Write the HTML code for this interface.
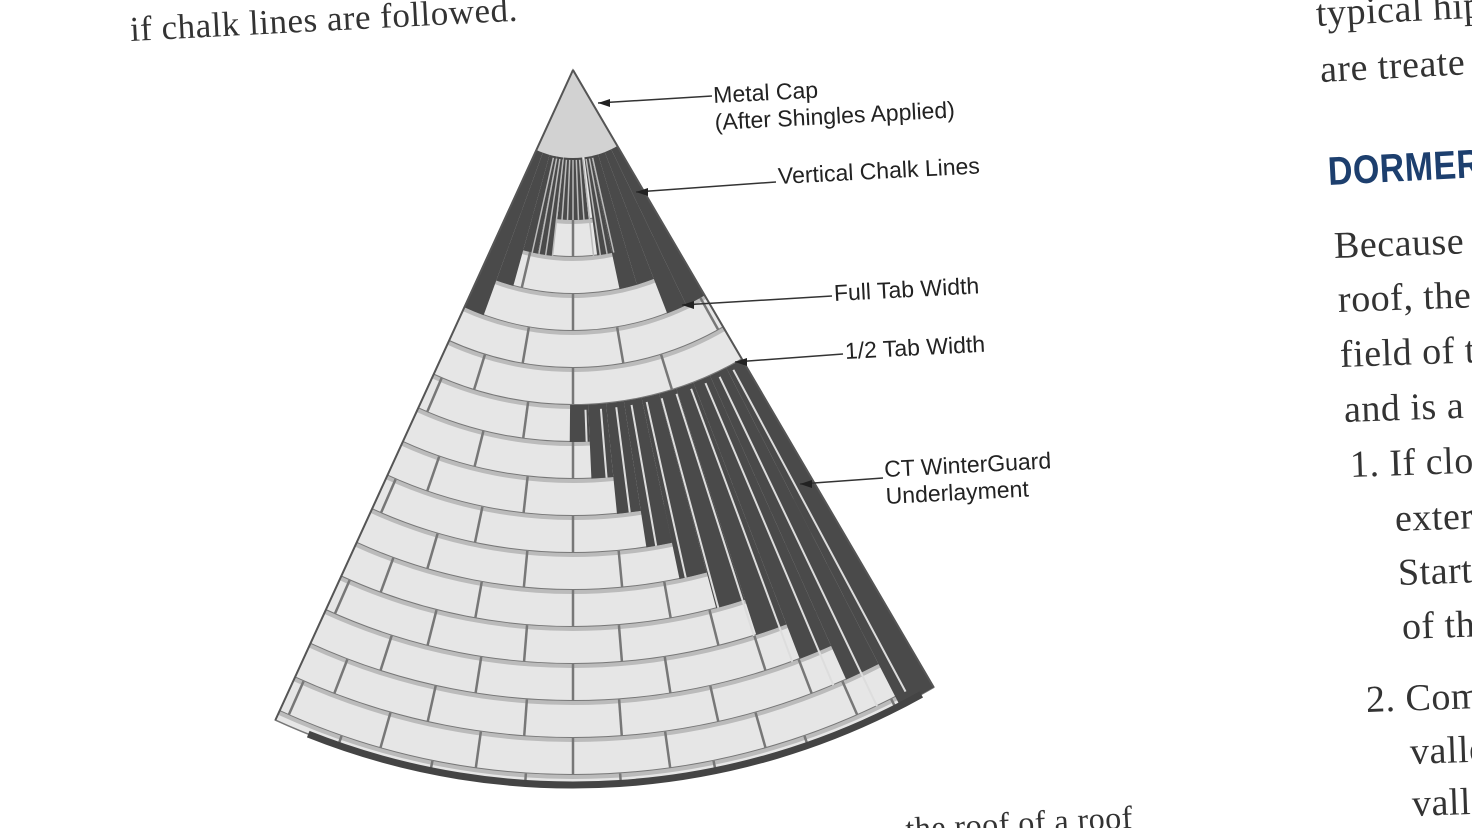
<!DOCTYPE html>
<html><head><meta charset="utf-8"><style>
html,body{margin:0;padding:0;background:#fff;width:1472px;height:828px;overflow:hidden;position:relative}
.s{position:absolute;font-family:"Liberation Serif",serif;color:#333;font-size:38px;white-space:nowrap;transform-origin:left center;letter-spacing:0.5px}
.l{position:absolute;font-family:"Liberation Sans",sans-serif;color:#222;font-size:23px;white-space:nowrap;transform:rotate(-3deg);transform-origin:left center;line-height:27px}
</style></head><body>
<div class="s" style="left:130px;top:10px;font-size:35px;transform:rotate(-3deg)">if chalk lines are followed.</div>
<div class="s" style="left:1316px;top:-8px;transform:rotate(-3deg)">typical hip</div>
<div class="s" style="left:1320px;top:48px;transform:rotate(-3deg)">are treate</div>
<div class="s" style="left:1328px;top:150px;font-family:'Liberation Sans',sans-serif;font-weight:bold;color:#1d3f6e;font-size:40px;transform:rotate(-3deg) scaleX(0.85)">DORMER</div>
<div class="s" style="left:1334px;top:224px;transform:rotate(-2deg)">Because</div>
<div class="s" style="left:1338px;top:278px;transform:rotate(-2deg)">roof, the</div>
<div class="s" style="left:1340px;top:333px;transform:rotate(-2deg)">field of t</div>
<div class="s" style="left:1344px;top:388px;transform:rotate(-2deg)">and is a</div>
<div class="s" style="left:1350px;top:443px;transform:rotate(-2deg)">1. If clo</div>
<div class="s" style="left:1395px;top:497px;transform:rotate(-2deg)">exter</div>
<div class="s" style="left:1398px;top:551px;transform:rotate(-2deg)">Start</div>
<div class="s" style="left:1402px;top:605px;transform:rotate(-2deg)">of th</div>
<div class="s" style="left:1366px;top:678px;transform:rotate(-2deg)">2. Com</div>
<div class="s" style="left:1410px;top:730px;transform:rotate(-2deg)">valle</div>
<div class="s" style="left:1412px;top:782px;transform:rotate(-2deg)">vall</div>
<div class="s" style="left:880px;top:812px;font-size:32px;transform:rotate(-3deg)">...the roof of a roof</div>

<svg id="g" width="1472" height="828" style="position:absolute;left:0;top:0"></svg>

<div class="l" style="left:714px;top:82px">Metal Cap<br>(After Shingles Applied)</div>
<div class="l" style="left:778px;top:163px">Vertical Chalk Lines</div>
<div class="l" style="left:834px;top:280px">Full Tab Width</div>
<div class="l" style="left:845px;top:338px">1/2 Tab Width</div>
<div class="l" style="left:885px;top:456px">CT WinterGuard<br>Underlayment</div>

<script>
var ax=573,ay=70,NS="http://www.w3.org/2000/svg",g=document.getElementById('g');
var L=-24.6*Math.PI/180,R=30.3*Math.PI/180;
function P(r,t){return [ax+r*Math.sin(t),ay+r*Math.cos(t)];}
function add(tag,a){var e=document.createElementNS(NS,tag);for(var k in a)e.setAttribute(k,a[k]);g.appendChild(e);return e;}
function sector(r1,r2,t1,t2){var a=P(r1,t1),b=P(r1,t2),c=P(r2,t2),d=P(r2,t1);
 var s="M"+a+" ";
 if(r1>0)s+="A"+r1+","+r1+" 0 0 0 "+b;else s+="L"+b;
 s+=" L"+c+" A"+r2+","+r2+" 0 0 1 "+d+" Z";return s;}
function arc(r,t1,t2){var a=P(r,t1),b=P(r,t2);return "M"+a+" A"+r+","+r+" 0 0 0 "+b;}
var RMAX=715;
add('path',{d:sector(0,RMAX,L,R),fill:'#e6e6e6',stroke:'#777','stroke-width':1.5});
add('path',{d:sector(0,88,L,R),fill:'#d2d2d2'});
var r0=150,h=37;
for(var k=0;k*h+r0<RMAX;k++){
 var ra=r0+k*h,rb=Math.min(ra+h,RMAX);
 add('path',{d:arc(ra,L,R),stroke:'#777','stroke-width':2,fill:'none'});
 add('path',{d:sector(ra,ra+4,L,R),fill:'#bbb'});
 var step=95/((ra+rb)/2), off=(k%2)*step/2;
 for(var t=-off;t<R;t+=step){if(t>L){var p=P(ra,t),q=P(rb,t);add('line',{x1:p[0],y1:p[1],x2:q[0],y2:q[1],stroke:'#777','stroke-width':2.5});}}
 for(var t=-off-step;t>L;t-=step){var p=P(ra,t),q=P(rb,t);add('line',{x1:p[0],y1:p[1],x2:q[0],y2:q[1],stroke:'#777','stroke-width':2.5});}
}
var dark='#4a4a4a';
var nb=12;
for(var i=0;i<nb;i++){
 var t1=L+(R-L)*i/nb,t2=L+(R-L)*(i+1)/nb,tm=(t1+t2)/2*180/Math.PI;
 var re=150+Math.round(Math.abs(tm)*4.2/h)*h;
 if(Math.abs(tm)<6)continue;
 add('path',{d:sector(88,re,t1,t2),fill:dark});
}
add('path',{d:sector(88,150,-6*Math.PI/180,6*Math.PI/180),fill:dark});
var nw=10,tA=-0.5*Math.PI/180;
for(var i=0;i<nw;i++){
 var t1=tA+(R-tA)*i/nw,t2=tA+(R-tA)*(i+1)/nw;
 var rs=150+5*h, re=150+Math.min(15,6+i)*h;
 if(i==nw-1)re=RMAX;
 add('path',{d:sector(rs,re,t1,t2),fill:dark});
}
for(var i=1;i<12;i++){var t=tA+(R-tA)*i/11*0.93;var p=P(340,t),q=P(150+Math.min(15,6+Math.floor(i*0.9))*h,t);add('line',{x1:p[0],y1:p[1],x2:q[0],y2:q[1],stroke:'#ddd','stroke-width':2});}
for(var i=-6;i<=6;i++){var t=i*2.1*Math.PI/180;var p=P(90,t),q=P(150+Math.round(Math.abs(i*2.1)*4.2/h)*h,t);add('line',{x1:p[0],y1:p[1],x2:q[0],y2:q[1],stroke:'#bbb','stroke-width':1.5});}
add('path',{d:arc(RMAX,L+0.05,R-0.02),stroke:'#444','stroke-width':7,fill:'none'});
add('path',{d:"M"+P(0,0)+" L"+P(RMAX,L)+" M"+P(0,0)+" L"+P(RMAX,R),stroke:'#555','stroke-width':2});
[[598,103,712,96],[636,192,776,182],[682,305,832,296],[735,362,843,354],[800,484,883,478]].forEach(function(a){
 add('line',{x1:a[0],y1:a[1],x2:a[2],y2:a[3],stroke:'#333','stroke-width':1.5});
 add('polygon',{points:a[0]+","+a[1]+" "+(a[0]+12)+","+(a[1]-4)+" "+(a[0]+12)+","+(a[1]+4),fill:'#222'});
});
</script>
</body></html>
